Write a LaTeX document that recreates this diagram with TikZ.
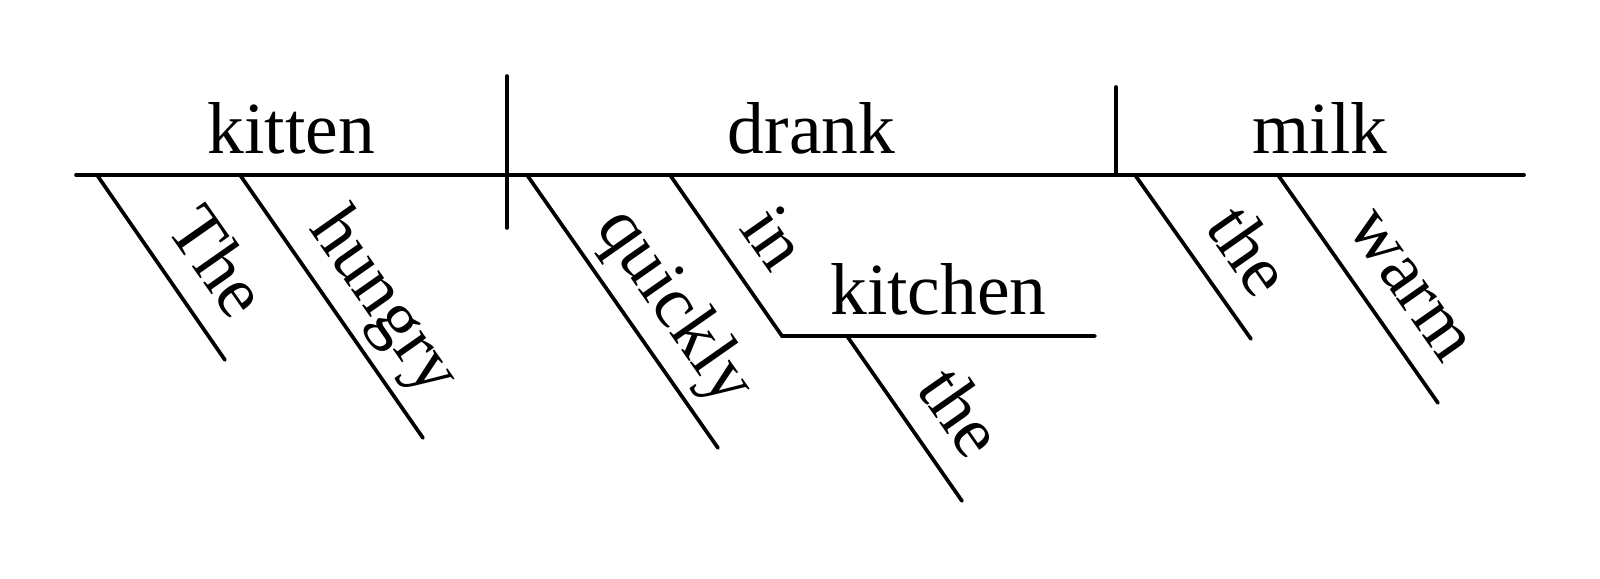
\documentclass[tikz,border=0pt]{standalone}
\usepackage{fontspec}
\setmainfont{Liberation Serif}
\usetikzlibrary{calc}

\begin{document}
\begin{tikzpicture}[
  x=0.01cm, y=-0.01cm,
  rule/.style={line width=1.05pt, line cap=round},
  word/.style={inner sep=0pt, font=\fontsize{20.9}{25}\selectfont},
  top/.style={word, anchor=base, yshift=0.21cm},
  slant/.style={word, anchor=base west, rotate=-55}
]
\useasboundingbox (0,0) rectangle (1600,579);

\coordinate (baseL) at (76,175);
\coordinate (baseR) at (1524,175);
\coordinate (sv) at (507,175);
\coordinate (svT) at (507,76);
\coordinate (svB) at (507,228);
\coordinate (vo) at (1116,175);
\coordinate (voT) at (1116,87);
\coordinate (theA) at (97,175);
\coordinate (theB) at (225,360);
\coordinate (hungA) at (240,175);
\coordinate (hungB) at (423,438);
\coordinate (quickA) at (527,175);
\coordinate (quickB) at (718,448);
\coordinate (inA) at (670,175);
\coordinate (inB) at (782,336);
\coordinate (kitR) at (1095,336);
\coordinate (ktheA) at (847,336);
\coordinate (ktheB) at (962,501);
\coordinate (mtheA) at (1135,175);
\coordinate (mtheB) at (1251,339);
\coordinate (warmA) at (1278,175);
\coordinate (warmB) at (1438,403);

\draw[rule] (baseL) -- (baseR);
\draw[rule] (svT) -- (svB);
\draw[rule] (voT) -- (vo);
\draw[rule] (theA) -- (theB);
\draw[rule] (hungA) -- (hungB);
\draw[rule] (quickA) -- (quickB);
\draw[rule] (inA) -- (inB) -- (kitR);
\draw[rule] (ktheA) -- (ktheB);
\draw[rule] (mtheA) -- (mtheB);
\draw[rule] (warmA) -- (warmB);

\node[top] (kitten) at ($(baseL)!0.5!(sv)$) {kitten};
\node[top] (drank) at ($(sv)!0.5!(vo)$) {drank};
\node[top] (milk) at ($(vo)!0.5!(baseR)$) {milk};
\node[top] (kitchen) at ($(inB)!0.5!(kitR)$) {kitchen};

\node[slant] (wThe) at ($(theA)!0.82cm!(theB)!0.26cm!90:(theB)$) {The};
\node[slant] (wHungry) at ($(hungA)!0.82cm!(hungB)!0.26cm!90:(hungB)$) {hungry};
\node[slant] (wQuickly) at ($(quickA)!0.82cm!(quickB)!0.26cm!90:(quickB)$) {quickly};
\node[slant] (wIn) at ($(inA)!0.82cm!(inB)!0.26cm!90:(inB)$) {in};
\node[slant] (wKthe) at ($(ktheA)!0.82cm!(ktheB)!0.26cm!90:(ktheB)$) {the};
\node[slant] (wMthe) at ($(mtheA)!0.82cm!(mtheB)!0.26cm!90:(mtheB)$) {the};
\node[slant] (wWarm) at ($(warmA)!0.82cm!(warmB)!0.26cm!90:(warmB)$) {warm};

\end{tikzpicture}
\end{document}
